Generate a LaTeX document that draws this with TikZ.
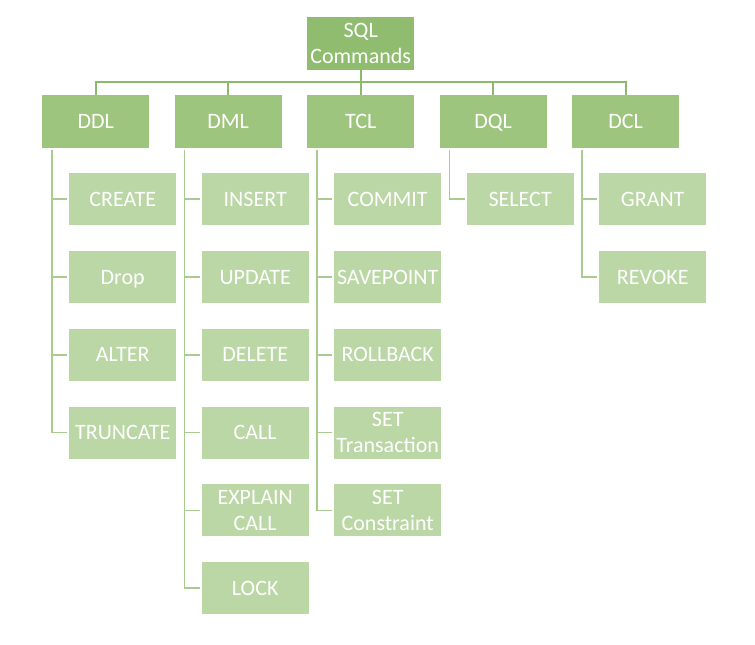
\documentclass[tikz,border=0pt]{standalone}
\usepackage{fontspec}
\setmainfont{Carlito}
\usetikzlibrary{positioning}
\definecolor{rootc}{HTML}{8FBC6E}
\definecolor{lvlc}{HTML}{9EC57E}
\definecolor{leafc}{HTML}{BAD7A5}
\definecolor{busc}{HTML}{8CBA6C}
\definecolor{linec}{HTML}{A9CB90}
\tikzset{
  base/.style={anchor=north west, inner sep=0pt, minimum width=107pt, text=white,
    font=\fontsize{22}{26}\selectfont},
  rootbox/.style={base, fill=rootc, minimum height=53pt, align=center},
  lvlbox/.style={base, fill=lvlc, minimum height=53pt, text height=14pt, text depth=0pt},
  leafbox/.style={base, fill=leafc, minimum height=52pt, text height=14pt, text depth=0pt},
  leaftwo/.style={base, fill=leafc, minimum height=52pt, align=center},
  bus/.style={draw=busc, line width=1.7pt},
  tree/.style={draw=linec, line width=1.7pt},
}
\begin{document}
\begin{tikzpicture}[x=1pt,y=-1pt]
\useasboundingbox (0,0) rectangle (755,645);
\node[rootbox] (root) at (307,17) {SQL\\Commands};
\node[lvlbox] (ddl) at (42,95) {DDL};
\node[lvlbox] (dml) at (174.5,95) {DML};
\node[lvlbox] (tcl) at (307,95) {TCL};
\node[lvlbox] (dql) at (439.5,95) {DQL};
\node[lvlbox] (dcl) at (572,95) {DCL};
% DDL children
\node[leafbox] (create) at (69,173) {CREATE};
\node[leafbox] (drop) at (69,250.8) {Drop};
\node[leafbox] (alter) at (69,328.6) {ALTER};
\node[leafbox] (trunc) at (69,406.4) {TRUNCATE};
% DML children
\node[leafbox] (insert) at (201.5,173) {INSERT};
\node[leafbox] (update) at (201.5,250.8) {UPDATE};
\node[leafbox] (delete) at (201.5,328.6) {DELETE};
\node[leafbox] (call) at (201.5,406.4) {CALL};
\node[leaftwo] (explain) at (201.5,484.2) {EXPLAIN\\CALL};
\node[leafbox] (lock) at (201.5,562) {LOCK};
% TCL children
\node[leafbox] (commit) at (334,173) {COMMIT};
\node[leafbox] (savep) at (334,250.8) {SAVEPOINT};
\node[leafbox] (rollb) at (334,328.6) {ROLLBACK};
\node[leaftwo] (settr) at (334,406.4) {SET\\Transaction};
\node[leaftwo] (setco) at (334,484.2) {SET\\Constraint};
% DQL children
\node[leafbox] (select) at (466.5,173) {SELECT};
% DCL children
\node[leafbox] (grant) at (599,173) {GRANT};
\node[leafbox] (revoke) at (599,250.8) {REVOKE};
% bus
\draw[bus] (root.south) -- ++(0,12) coordinate (busmid);
\draw[bus] (ddl.north) -- ++(0,-13) -| (dcl.north);
\draw[bus] (dml.north) -- ++(0,-13);
\draw[bus] (tcl.north) -- ++(0,-13);
\draw[bus] (dql.north) -- ++(0,-13);
% trees
\foreach \p/\c in {ddl/create,ddl/drop,ddl/alter,ddl/trunc,
  dml/insert,dml/update,dml/delete,dml/call,dml/explain,dml/lock,
  tcl/commit,tcl/savep,tcl/rollb,tcl/settr,tcl/setco,
  dql/select,dcl/grant,dcl/revoke}
  \draw[tree] ([xshift=10pt,yshift=-2pt]\p.south west) |- ([xshift=-2pt]\c.west);
\end{tikzpicture}
\end{document}
